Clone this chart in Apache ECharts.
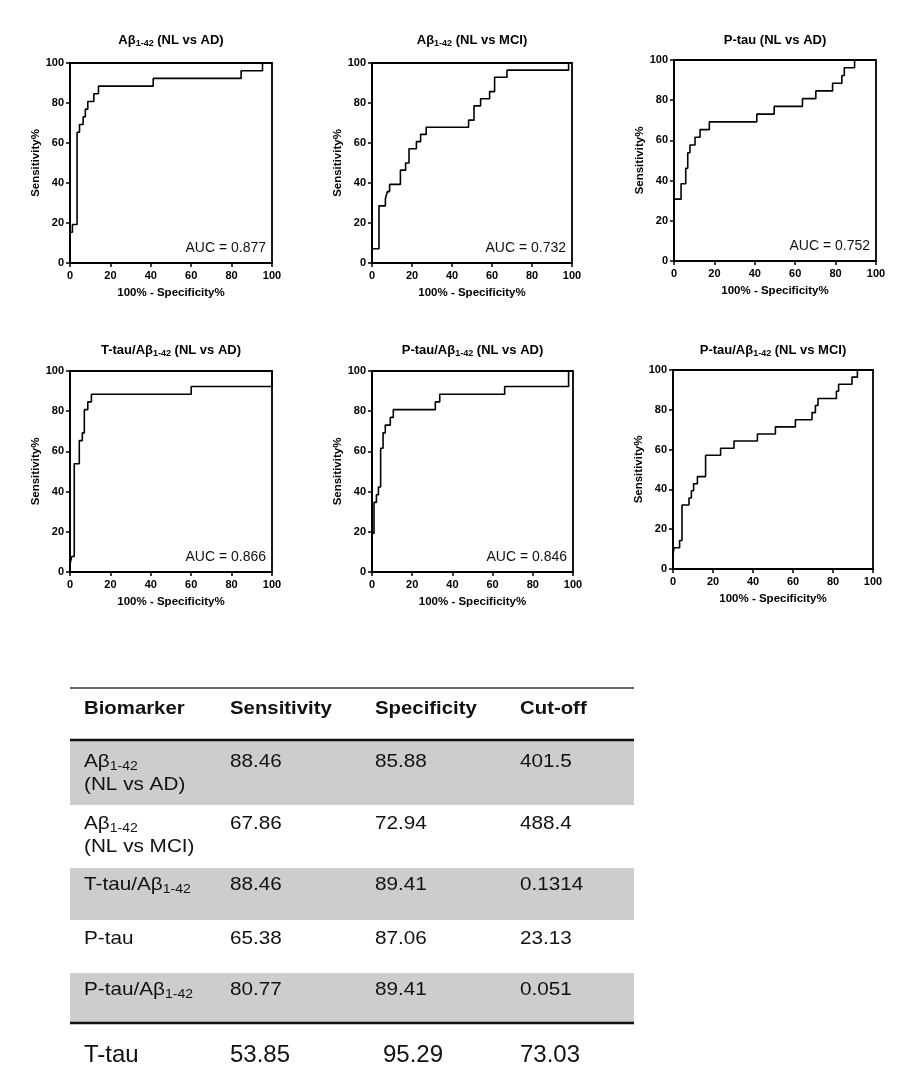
<!DOCTYPE html>
<html><head><meta charset="utf-8">
<script src="https://cdn.jsdelivr.net/npm/echarts@6/dist/echarts.min.js"></script>
<style>html,body{margin:0;padding:0;background:#fff}#c{width:914px;height:1079px}</style>
</head><body><div id="c"></div>
<script>
const FONT = "'Liberation Sans', Arial, Helvetica, sans-serif";

// ---- ROC data: x = 100% - Specificity% at each jump, y = Sensitivity% after jump ----
const abAD_fpr = [0, 1.2, 3.5, 4.7, 6.5, 7.6, 8.8, 11.8, 14.1, 41.2, 84.7, 95.3];
const abAD_tpr = [15.38, 19.23, 65.38, 69.23, 73.08, 76.92, 80.77, 84.62, 88.46, 92.31, 96.15, 100];

const abMCI_fpr = [0, 3.5, 6.7, 7.7, 8.8, 14.2, 16.8, 18.5, 22.2, 24.3, 27.1, 48.3, 51.0, 54.3, 58.8, 61.3, 67.5, 98.3];
const abMCI_tpr = [7.14, 28.57, 32.14, 35.71, 39.29, 46.43, 50.0, 57.14, 60.71, 64.29, 67.86, 71.43, 78.57, 82.14, 85.71, 92.86, 96.43, 100];

const ptauAD_fpr = [0, 3.5, 5.8, 6.8, 7.9, 10.4, 12.9, 17.5, 41.0, 49.6, 63.6, 70.2, 78.5, 83.1, 84.3, 89.4];
const ptauAD_tpr = [30.77, 38.46, 46.15, 53.85, 57.69, 61.54, 65.38, 69.23, 73.08, 76.92, 80.77, 84.62, 88.46, 92.31, 96.15, 100];

const ttauAbAD_fpr = [0, 0.8, 2.1, 4.6, 6.1, 7.1, 8.8, 10.6, 60.0, 100];
const ttauAbAD_tpr = [3.85, 7.69, 53.85, 65.38, 69.23, 80.77, 84.62, 88.46, 92.31, 100];

const ptauAbAD_fpr = [0, 1.0, 2.2, 3.2, 4.3, 5.5, 6.6, 9.1, 10.6, 31.5, 33.7, 66.0, 97.8];
const ptauAbAD_tpr = [19.23, 34.62, 38.46, 42.31, 61.54, 69.23, 73.08, 76.92, 80.77, 84.62, 88.46, 92.31, 100];

const ptauAbMCI_fpr = [0, 0.5, 3.3, 4.5, 8.0, 9.2, 10.3, 12.2, 16.3, 23.8, 30.5, 42.2, 51.2, 61.2, 69.5, 71.2, 72.5, 81.7, 82.8, 89.5, 92.2];
const ptauAbMCI_tpr = [7.14, 10.71, 14.29, 32.14, 35.71, 39.29, 42.86, 46.43, 57.14, 60.71, 64.29, 67.86, 71.43, 75.0, 78.57, 82.14, 85.71, 89.29, 92.86, 96.43, 100];

const panelTitles = [
  ['Aβ', '1-42', ' (NL vs AD)'],
  ['Aβ', '1-42', ' (NL vs MCI)'],
  ['P-tau (NL vs AD)', '', ''],
  ['T-tau/Aβ', '1-42', ' (NL vs AD)'],
  ['P-tau/Aβ', '1-42', ' (NL vs AD)'],
  ['P-tau/Aβ', '1-42', ' (NL vs MCI)']
];
const aucLabels = ['AUC = 0.877', 'AUC = 0.732', 'AUC = 0.752', 'AUC = 0.866', 'AUC = 0.846', ''];
const xAxisName = '100% - Specificity%';
const yAxisName = 'Sensitivity%';

// ---- Table data ----
const tableHeader = ['Biomarker', 'Sensitivity', 'Specificity', 'Cut-off'];
const biomarkerRows = [
  '{n|Aβ}{s|1-42}\n{n|(NL vs AD)}',
  '{n|Aβ}{s|1-42}\n{n|(NL vs MCI)}',
  '{n|T-tau/Aβ}{s|1-42}',
  '{n|P-tau}',
  '{n|P-tau/Aβ}{s|1-42}',
  '{n|T-tau}'
];
const sensitivityVals = ['88.46', '67.86', '88.46', '65.38', '80.77', '53.85'];
const specificityVals = ['85.88', '72.94', '89.41', '87.06', '89.41', '95.29'];
const cutoffVals = ['401.5', '488.4', '0.1314', '23.13', '0.051', '73.03'];

// ---- layout ----
const gridBoxes = [[70, 63, 202, 200], [372, 63, 200, 200], [674, 60, 202, 201],
                   [70, 371, 202, 201], [372, 371, 201, 201], [673, 370, 200, 199]];
const titleY = [40, 40, 40, 350, 350, 350];

const rocSets = [[abAD_fpr, abAD_tpr], [abMCI_fpr, abMCI_tpr], [ptauAD_fpr, ptauAD_tpr],
                 [ttauAbAD_fpr, ttauAbAD_tpr], [ptauAbAD_fpr, ptauAbAD_tpr], [ptauAbMCI_fpr, ptauAbMCI_tpr]];

function stairs(fpr, tpr) {
  const pts = [[0, 0]];
  let prev = 0;
  for (let i = 0; i < fpr.length; i++) {
    pts.push([fpr[i], prev]);
    pts.push([fpr[i], tpr[i]]);
    prev = tpr[i];
  }
  pts.push([100, prev]);
  return pts;
}

const grids = [], xAxes = [], yAxes = [], series = [], graphics = [];
const labelStyle = { color: '#000', fontWeight: 'bold', fontSize: 11, fontFamily: FONT };
gridBoxes.forEach((b, i) => {
  grids.push({ left: b[0], top: b[1], width: b[2], height: b[3], show: true,
    borderColor: '#000', borderWidth: 1.8, backgroundColor: 'transparent', containLabel: false });
  xAxes.push({ gridIndex: i, type: 'value', min: 0, max: 100, interval: 20,
    axisLine: { show: true, lineStyle: { color: '#000', width: 1.8 } },
    axisTick: { show: true, length: 4, lineStyle: { color: '#000', width: 1.5 } },
    axisLabel: Object.assign({ margin: 7 }, labelStyle),
    splitLine: { show: false },
    name: xAxisName, nameLocation: 'middle', nameGap: 24,
    nameTextStyle: Object.assign({}, labelStyle, { fontSize: 11.5 }) });
  yAxes.push({ gridIndex: i, type: 'value', min: 0, max: 100, interval: 20,
    axisLine: { show: true, lineStyle: { color: '#000', width: 1.8 } },
    axisTick: { show: true, length: 4, lineStyle: { color: '#000', width: 1.5 } },
    axisLabel: Object.assign({ margin: 6 }, labelStyle),
    splitLine: { show: false },
    name: yAxisName, nameLocation: 'middle', nameGap: 22,
    nameTextStyle: Object.assign({}, labelStyle, { fontSize: 11.5 }) });
  series.push({ type: 'line', xAxisIndex: i, yAxisIndex: i, data: stairs(rocSets[i][0], rocSets[i][1]),
    showSymbol: false, symbol: 'none', clip: false, animation: false,
    lineStyle: { color: '#000', width: 1.6 } });
  const t = panelTitles[i];
  let txt = '{b|' + t[0] + '}';
  if (t[1]) txt += '{s|' + t[1] + '}';
  if (t[2]) txt += '{b|' + t[2] + '}';
  graphics.push({ type: 'text', x: b[0] + b[2] / 2, y: titleY[i],
    style: { text: txt, align: 'center', verticalAlign: 'middle',
      rich: { b: { fontSize: 13, fontWeight: 'bold', fontFamily: FONT, fill: '#000', lineHeight: 16 },
              s: { fontSize: 9, fontWeight: 'bold', fontFamily: FONT, fill: '#000', lineHeight: 9, verticalAlign: 'bottom' } } } });
  if (aucLabels[i]) {
    graphics.push({ type: 'text', x: b[0] + b[2] - 6, y: b[1] + b[3] - 15,
      style: { text: aucLabels[i], align: 'right', verticalAlign: 'middle', fontSize: 14, fontFamily: FONT, fill: '#111' } });
  }
});

// ---- table ----
const tblLeft = 70, tblRight = 634;
const colX = [84, 230, 375, 520];
const lastColX = [84, 230, 383, 520];
const grayBands = [[741, 805], [868, 920], [973, 1022]];
grayBands.forEach(g => graphics.push({ type: 'rect', shape: { x: tblLeft, y: g[0], width: tblRight - tblLeft, height: g[1] - g[0] },
  style: { fill: '#cdcdcd' }, z: 0 }));
[[688, 1.4, '#333'], [740, 2.4, '#111'], [1023, 2.4, '#111']].forEach(l => graphics.push({ type: 'line',
  shape: { x1: tblLeft, y1: l[0], x2: tblRight, y2: l[0] }, style: { stroke: l[2], lineWidth: l[1] }, z: 2 }));
tableHeader.forEach((h, j) => graphics.push({ type: 'text', x: colX[j], y: 709, scaleX: 1.1,
  style: { text: h, align: 'left', verticalAlign: 'middle', fontSize: 18.5, fontWeight: 'bold', fontFamily: FONT, fill: '#111' }, z: 3 }));
const rowCenters = [762, 824, 885, 939, 990, 1055];
biomarkerRows.forEach((r, i) => {
  const last = i === biomarkerRows.length - 1;
  const fs = last ? 24 : 18.5, lh = last ? 30 : 23;
  const sx = last ? 1 : 1.12;
  const cx = last ? lastColX : colX;
  const top = rowCenters[i] - lh / 2;
  graphics.push({ type: 'text', x: cx[0], y: top, z: 3, scaleX: sx,
    style: { text: r, align: 'left', verticalAlign: 'top',
      rich: { n: { fontSize: fs, fontFamily: FONT, fill: '#111', lineHeight: lh },
              s: { fontSize: 12.5, fontFamily: FONT, fill: '#111', lineHeight: 13, verticalAlign: 'bottom' } } } });
  [sensitivityVals[i], specificityVals[i], cutoffVals[i]].forEach((v, j) => graphics.push({ type: 'text',
    x: cx[j + 1], y: rowCenters[i], z: 3, scaleX: sx,
    style: { text: v, align: 'left', verticalAlign: 'middle', fontSize: fs, fontFamily: FONT, fill: '#111' } }));
});

const chart = echarts.init(document.getElementById('c'), null, { renderer: 'canvas' });
chart.setOption({ animation: false, backgroundColor: '#fff', grid: grids, xAxis: xAxes, yAxis: yAxes, series: series, graphic: graphics });
</script></body></html>
